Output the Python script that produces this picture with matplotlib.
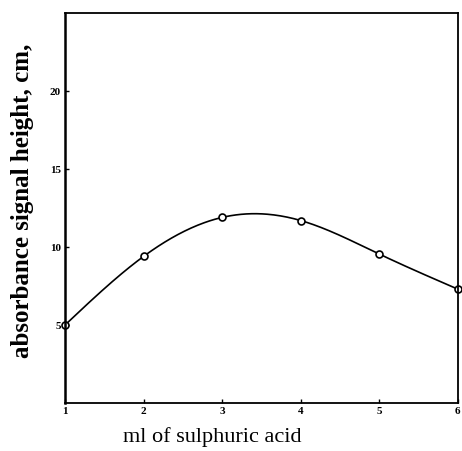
import numpy as np
import matplotlib.pyplot as plt

# ml of sulphuric acid vs absorbance signal height (cm)
acid_ml = [1, 2, 3, 4, 5, 6]
signal_cm = [5.0, 9.4, 11.9, 11.7, 9.55, 7.3]
x_ticks = [1, 2, 3, 4, 5, 6]
y_ticks = [5, 10, 15, 20]


def natural_spline(x, y, xs):
    # plain natural cubic spline, just for drawing the smooth curve
    x = np.asarray(x, float)
    y = np.asarray(y, float)
    n = len(x)
    h = np.diff(x)
    A = np.zeros((n, n))
    b = np.zeros(n)
    A[0, 0] = A[-1, -1] = 1
    for i in range(1, n - 1):
        A[i, i - 1] = h[i - 1]
        A[i, i] = 2 * (h[i - 1] + h[i])
        A[i, i + 1] = h[i]
        b[i] = 3 * ((y[i + 1] - y[i]) / h[i] - (y[i] - y[i - 1]) / h[i - 1])
    c = np.linalg.solve(A, b)
    out = np.empty_like(xs)
    for k, xv in enumerate(xs):
        i = min(max(np.searchsorted(x, xv) - 1, 0), n - 2)
        d = xv - x[i]
        bi = (y[i + 1] - y[i]) / h[i] - h[i] * (2 * c[i] + c[i + 1]) / 3
        di = (c[i + 1] - c[i]) / (3 * h[i])
        out[k] = y[i] + bi * d + c[i] * d ** 2 + di * d ** 3
    return out


plt.rcParams['font.family'] = ['Liberation Serif', 'DejaVu Serif']

fig = plt.figure(figsize=(4.62, 4.51), dpi=100)
ax = fig.add_axes([0.1407, 0.1064, 0.8503, 0.8646])

xs = np.linspace(1, 6, 300)
ax.plot(xs, natural_spline(acid_ml, signal_cm, xs), color='black', lw=1.2)
ax.plot(acid_ml, signal_cm, 'o', mfc='white', mec='black', ms=5, mew=1.2, clip_on=False)

ax.set_xlim(1, 6)
ax.set_ylim(0, 25)
ax.set_xticks(x_ticks)
ax.set_yticks(y_ticks)
ax.set_xticklabels([str(v) for v in x_ticks], fontsize=8, fontweight='bold')
ax.set_yticklabels([str(v) for v in y_ticks], fontsize=8, fontweight='bold')
ax.tick_params(direction='in', length=3, width=1, pad=3)
for s in ax.spines.values():
    s.set_linewidth(1.3)
ax.spines['left'].set_linewidth(1.8)

fig.text(0.459, 0.02, 'ml of sulphuric acid', fontsize=16, ha='center', va='baseline')
fig.text(0.048, 0.555, 'absorbance signal height, cm,', fontsize=18, fontweight='bold',
         rotation=90, ha='center', va='center')

fig.savefig('out.png', dpi=100)
